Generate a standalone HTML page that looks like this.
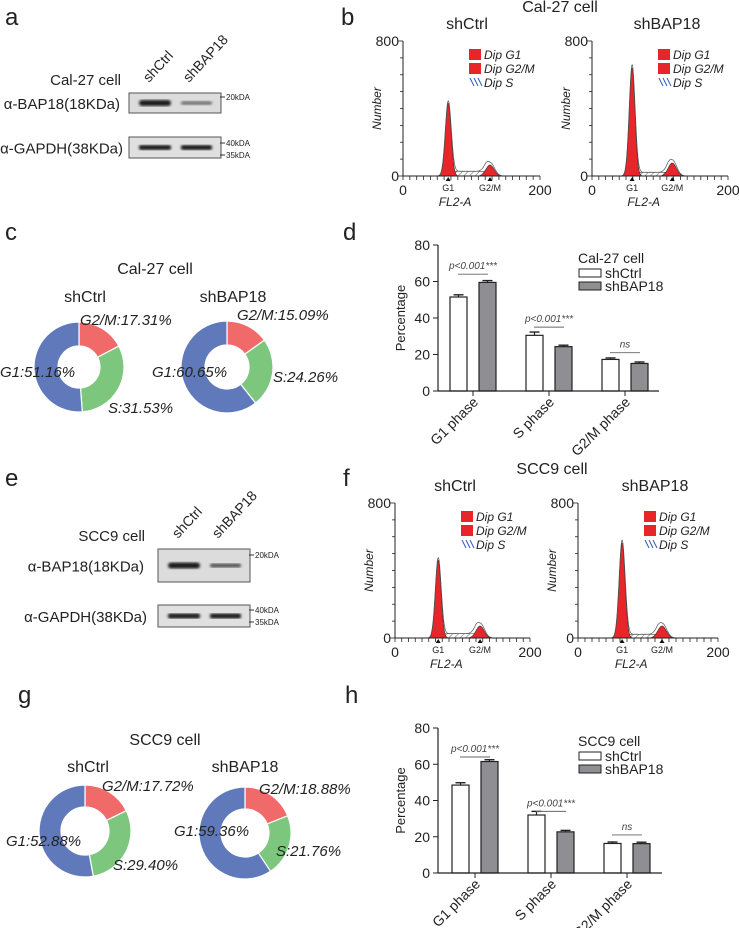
<!DOCTYPE html>
<html><head><meta charset="utf-8">
<style>
html,body{margin:0;padding:0;background:#fff;}
svg{display:block;font-family:"Liberation Sans",Arial,sans-serif;}
</style></head>
<body>
<svg id="fig" width="739" height="928" viewBox="0 0 739 928" xmlns="http://www.w3.org/2000/svg">
<defs>
<pattern id="hatch" width="4" height="4" patternUnits="userSpaceOnUse" patternTransform="rotate(45)">
<rect width="4" height="4" fill="#fff"/><line x1="0" y1="0" x2="0" y2="4" stroke="#777" stroke-width="1.2"/></pattern>
<filter id="blur1"><feGaussianBlur stdDeviation="1.2"/></filter>
</defs>
<g id="letters" font-size="24" fill="#222">
<text x="5" y="25">a</text>
<text x="341" y="25">b</text>
<text x="5" y="240">c</text>
<text x="343" y="240">d</text>
<text x="5" y="486">e</text>
<text x="343" y="486">f</text>
<text x="18" y="703">g</text>
<text x="345" y="703">h</text>
</g>
<g id="root"></g>
</svg>
<script>
// ---- data arrays ----
const pieCats = ["G2/M","S","G1"];
const pieCalCtrl = [17.31, 31.53, 51.16];
const pieCalBap = [15.09, 24.26, 60.65];
const pieSccCtrl = [17.72, 29.40, 52.88];
const pieSccBap = [18.88, 21.76, 59.36];

const barCats = ["G1 phase","S phase","G2/M phase"];
const calCtrl = [51.5, 30.5, 17.3];
const calBap = [59.5, 24.3, 15.1];
const calCtrlErr = [1.2, 1.8, 0.8];
const calBapErr = [1.0, 0.8, 0.8];
const calSig = [64, 35, 21];
const sccCtrl = [48.5, 32.0, 16.3];
const sccBap = [61.5, 22.7, 16.2];
const sccCtrlErr = [1.3, 2.0, 0.8];
const sccBapErr = [1.0, 0.8, 0.8];
const sccSig = [64, 34, 21];
const sigText = ["p<0.001***","p<0.001***","ns"];
const yTicks = [0,20,40,60,80];

// flow histogram peaks: [G1 channel, G1 height, G2 channel, G2 height, S level]
const histCalCtrl = [66, 432, 127, 65, 28];
const histCalBap = [59, 640, 118, 77, 22];
const histSccCtrl = [64, 462, 126, 71, 26];
const histSccBap = [63, 563, 120, 71, 22];

const NS = "http://www.w3.org/2000/svg";
const root = document.getElementById('root');
function el(tag, attrs, parent, text){
  const e = document.createElementNS(NS, tag);
  for (const k in attrs) e.setAttribute(k, attrs[k]);
  if (text !== undefined) e.textContent = text;
  (parent||root).appendChild(e);
  return e;
}
function txt(x,y,s,size,opts,parent){
  const a = Object.assign({x:x,y:y,'font-size':size,fill:'#222'}, opts||{});
  return el('text', a, parent, s);
}

// ---- western blots ----
function blot(ox, y1, h1, y2, h2, cell, lx, bandsTop, kd){
  const g = el('g', {});
  
  
  txt(lx, y1-8, cell+" cell", 15, {'text-anchor':'end'}, g);
  txt(lx-1, y1+h1/2+6, "α-BAP18(18KDa)", 15, {'text-anchor':'end'}, g);
  txt(lx+2, y2+h2/2+6, "α-GAPDH(38KDa)", 15, {'text-anchor':'end'}, g);
  const w = 92;
  el('rect', {x:ox,y:y1,width:w,height:h1,fill:'#dcdcdc',stroke:'#555','stroke-width':1}, g);
  el('rect', {x:ox,y:y2,width:w,height:h2,fill:'#e0e0e0',stroke:'#555','stroke-width':1}, g);
  el('rect', {x:ox+10,y:y1+h1/2-3,width:32,height:6,rx:3,fill:'#1a1a1a',filter:'url(#blur1)'}, g);
  el('rect', {x:ox+52,y:y1+h1/2-2,width:31,height:4,rx:2,fill:bandsTop,filter:'url(#blur1)'}, g);
  el('rect', {x:ox+10,y:y2+h2/2-2.5,width:32,height:5,rx:2,fill:'#1a1a1a',filter:'url(#blur1)'}, g);
  el('rect', {x:ox+52,y:y2+h2/2-2.5,width:31,height:5,rx:2,fill:'#1a1a1a',filter:'url(#blur1)'}, g);
  const labs = ["shCtrl","shBAP18"];
  [ox+20, ox+60].forEach((x,i)=>{
    const t = txt(x, y1-10, labs[i], 14, {transform:`rotate(-47 ${x} ${y1-10})`}, g);
    
    
  });
  kd.forEach(k=>{
    el('line',{x1:ox+w-1,x2:ox+w+4,y1:k[1],y2:k[1],stroke:'#333','stroke-width':1},g);
    txt(ox+w+5, k[1]+3, k[0], 8, {}, g);
  });
}
blot(129, 93, 20, 137, 21, "Cal-27", 121, '#777', [["20kDA",97],["40kDA",143],["35kDA",155]]);
blot(158, 549, 33, 605, 22, "SCC9", 145, '#555', [["20kDA",555],["40kDA",610],["35kDA",622]]);

// ---- flow histograms ----
function hist(ax, top, zero, xend, d, name){
  const g = el('g', {});
  
  
  const sx = c => ax + (xend-ax)*c/200;
  const sy = v => zero - (zero-top)*v/800;
  const gauss = (c, mu, sig, h) => h*Math.exp(-0.5*((c-mu)/sig)**2);
  let sPath = `M${sx(d[0])},${zero}`;
  for (let c=d[0]; c<=d[2]; c+=1){
    const t = Math.min(1, Math.max(0,(c-d[0])/6)) * Math.min(1, Math.max(0,(d[2]-c)/6));
    sPath += ` L${sx(c)},${sy(d[4]*t)}`;
  }
  sPath += ` L${sx(d[2])},${zero} Z`;
  el('path',{d:sPath,fill:'url(#hatch)',stroke:'#444','stroke-width':0.6},g);
  [[d[0],4.2,d[1]],[d[2],6,d[3]]].forEach(p=>{
    let pth = `M${sx(p[0]-4*p[1])},${zero}`;
    for (let c=p[0]-4*p[1]; c<=p[0]+4*p[1]; c+=0.5) pth += ` L${sx(c)},${sy(gauss(c,p[0],p[1],p[2]))}`;
    pth += ` L${sx(p[0]+4*p[1])},${zero} Z`;
    el('path',{d:pth,fill:'#e8262a',stroke:'#333','stroke-width':0.6},g);
  });
  let env = `M${sx(d[0]-16)},${zero}`;
  for (let c=d[0]-16; c<=d[2]+22; c+=0.5){
    const t = Math.min(1, Math.max(0,(c-d[0])/6)) * Math.min(1, Math.max(0,(d[2]-c)/6));
    const v = gauss(c,d[0],4.3,d[1]*1.03) + gauss(c,d[2],6.3,d[3]*1.25) + d[4]*t;
    env += ` L${sx(c)},${sy(v)}`;
  }
  el('path',{d:env,fill:'none',stroke:'#555','stroke-width':0.7},g);
  el('line',{x1:ax,x2:ax,y1:top,y2:zero,stroke:'#222','stroke-width':1},g);
  el('line',{x1:ax,x2:xend,y1:zero,y2:zero,stroke:'#222','stroke-width':1},g);
  for (let v=0; v<=800; v+=100){
    const L = (v%800===0)?5:3;
    el('line',{x1:ax-L,x2:ax,y1:sy(v),y2:sy(v),stroke:'#222','stroke-width':0.8},g);
  }
  for (let c=0; c<=200; c+=10){
    el('line',{x1:sx(c),x2:sx(c),y1:zero,y2:zero+4,stroke:'#222','stroke-width':0.8},g);
  }
  txt(ax-4, top+5, "800", 14, {'text-anchor':'end'}, g);
  txt(ax-4, zero+5, "0", 14, {'text-anchor':'end'}, g);
  txt(ax, zero+19, "0", 14, {'text-anchor':'middle'}, g);
  txt(xend, zero+19, "200", 14, {'text-anchor':'middle'}, g);
  [[d[0],"G1"],[d[2],"G2/M"]].forEach(m=>{
    el('path',{d:`M${sx(m[0])-2.5},${zero+5} L${sx(m[0])+2.5},${zero+5} L${sx(m[0])},${zero+1} Z`,fill:'#111'},g);
    txt(sx(m[0]), zero+15, m[1], 9, {'text-anchor':'middle'}, g);
  });
  txt(ax+(xend-ax)*0.38, zero+30, "FL2-A", 12, {'text-anchor':'middle','font-style':'italic'}, g);
  const ny = (top+zero)/2;
  txt(ax-22, ny, "Number", 12, {'text-anchor':'middle','font-style':'italic',transform:`rotate(-90 ${ax-22} ${ny})`}, g);
  const lx = ax+66;
  el('rect',{x:lx,y:top+8,width:12,height:11,fill:'#e8262a'},g);
  el('rect',{x:lx,y:top+22,width:12,height:11,fill:'#e8262a'},g);
  for (let i=0;i<3;i++) el('line',{x1:lx+1+i*4,y1:top+37,x2:lx+5+i*4,y2:top+45,stroke:'#2a5bb5','stroke-width':1},g);
  txt(lx+15, top+18, "Dip G1", 12, {'font-style':'italic'}, g);
  txt(lx+15, top+32, "Dip G2/M", 12, {'font-style':'italic'}, g);
  txt(lx+15, top+46, "Dip S", 12, {'font-style':'italic'}, g);
}
txt(560, 12, "Cal-27 cell", 16, {'text-anchor':'middle'});
txt(467, 29, "shCtrl", 16, {'text-anchor':'middle'});
txt(667, 29, "shBAP18", 16, {'text-anchor':'middle'});
hist(403, 41, 176, 540, histCalCtrl, 'cal27-shctrl');
hist(592, 41, 176, 728, histCalBap, 'cal27-shbap18');
txt(552, 474, "SCC9 cell", 16, {'text-anchor':'middle'});
txt(455, 491, "shCtrl", 16, {'text-anchor':'middle'});
txt(655, 491, "shBAP18", 16, {'text-anchor':'middle'});
hist(395, 503, 638, 530, histSccCtrl, 'scc9-shctrl');
hist(578, 503, 638, 718, histSccBap, 'scc9-shbap18');

// ---- donuts ----
const pieColors = ["#f06a6a","#7dc67e","#6079bb"];
function donut(cx, cy, r, ri, vals, labels, name){
  const g = el('g', {});
  
  
  const tot = vals.reduce((a,b)=>a+b,0);
  let a0 = -Math.PI/2;
  vals.forEach((v,i)=>{
    const a1 = a0 + 2*Math.PI*v/tot;
    const large = (a1-a0)>Math.PI?1:0;
    const p = (a,rr)=>[cx+rr*Math.cos(a), cy+rr*Math.sin(a)];
    const [x0,y0]=p(a0,r),[x1,y1]=p(a1,r),[x2,y2]=p(a1,ri),[x3,y3]=p(a0,ri);
    const s = el('path',{d:`M${x0},${y0} A${r},${r} 0 ${large} 1 ${x1},${y1} L${x2},${y2} A${ri},${ri} 0 ${large} 0 ${x3},${y3} Z`,fill:pieColors[i],stroke:'#fff','stroke-width':1.2},g);
    
    
    a0 = a1;
  });
  labels.forEach((L,i)=>{
    txt(L[0], L[1], pieCats[i]+":"+vals[i].toFixed(2)+"%", 15, {'font-style':'italic'}, g);
  });
}
txt(155, 274, "Cal-27 cell", 16, {'text-anchor':'middle'});
txt(85, 302, "shCtrl", 16, {'text-anchor':'middle'});
txt(233, 302, "shBAP18", 16, {'text-anchor':'middle'});
donut(79, 367, 45, 21, pieCalCtrl, [[80,325],[108,413],[0,377]], 'cal27-shctrl');
donut(227, 367, 46, 22, pieCalBap, [[237,320],[273,382],[152,377]], 'cal27-shbap18');
txt(165, 745, "SCC9 cell", 16, {'text-anchor':'middle'});
txt(88, 772, "shCtrl", 16, {'text-anchor':'middle'});
txt(245, 772, "shBAP18", 16, {'text-anchor':'middle'});
donut(85, 831, 46, 24, pieSccCtrl, [[102,791],[113,870],[6,846]], 'scc9-shctrl');
donut(245, 833, 46, 24, pieSccBap, [[259,794],[276,856],[174,836]], 'scc9-shbap18');

// ---- bar charts ----
function bars(ax, y0, y80, xend, g0, ctrl, bap, ce, be, sig, cell, name){
  const g = el('g', {});
  
  
  const sy = v => y0 - (y0-y80)*v/80;
  const gx = i => g0 + 76*i;
  const bw = 17;
  barCats.forEach((c,i)=>{
    [[ctrl,ce,-14.5,'#fff'],[bap,be,14.5,'#8e8e93']].forEach((s,j)=>{
      const x = gx(i)+s[2]-bw/2;
      const b = el('rect',{x:x,y:sy(s[0][i]),width:bw,height:sy(0)-sy(s[0][i]),fill:s[3],stroke:'#222','stroke-width':1.2},g);
      
      
      const xc = x+bw/2, ye = sy(s[0][i]+s[1][i]);
      el('line',{x1:xc,x2:xc,y1:sy(s[0][i]),y2:ye,stroke:'#222','stroke-width':1.2},g);
      el('line',{x1:xc-5,x2:xc+5,y1:ye,y2:ye,stroke:'#222','stroke-width':1.4},g);
    });
    const ly = sy(sig[i]);
    el('line',{x1:gx(i)-15,x2:gx(i)+15,y1:ly,y2:ly,stroke:'#666','stroke-width':0.9},g);
    txt(gx(i), ly-5, sigText[i], 10, {'text-anchor':'middle','font-style':'italic',fill:'#444'}, g);
    el('line',{x1:gx(i),x2:gx(i),y1:y0,y2:y0+5,stroke:'#222','stroke-width':1},g);
    const tx = gx(i)+6, ty = y0+12;
    txt(tx, ty, c, 14, {'text-anchor':'end',transform:`rotate(-45 ${tx} ${ty})`}, g);
  });
  el('line',{x1:ax,x2:ax,y1:y80,y2:y0,stroke:'#222','stroke-width':1.2},g);
  el('line',{x1:ax,x2:xend,y1:y0,y2:y0,stroke:'#222','stroke-width':1.2},g);
  yTicks.forEach(t=>{
    el('line',{x1:ax-5,x2:ax,y1:sy(t),y2:sy(t),stroke:'#222','stroke-width':1},g);
    txt(ax-8, sy(t)+5, String(t), 14, {'text-anchor':'end'}, g);
  });
  const my = (y0+y80)/2;
  txt(ax-33, my, "Percentage", 13, {'text-anchor':'middle',transform:`rotate(-90 ${ax-33} ${my})`}, g);
  const lx = ax+140, ly = y80+16;
  txt(lx, ly+2, cell, 14, {}, g);
  el('rect',{x:lx+1,y:ly+8,width:22,height:8,fill:'#fff',stroke:'#222','stroke-width':1},g);
  el('rect',{x:lx+1,y:ly+21,width:22,height:8,fill:'#8e8e93',stroke:'#222','stroke-width':1},g);
  txt(lx+27, ly+17, "shCtrl", 14, {}, g);
  txt(lx+27, ly+30, "shBAP18", 14, {}, g);
}
bars(438, 391, 245, 659, 473, calCtrl, calBap, calCtrlErr, calBapErr, calSig, "Cal-27 cell", 'cal27');
bars(438, 873, 728, 662, 475, sccCtrl, sccBap, sccCtrlErr, sccBapErr, sccSig, "SCC9 cell", 'scc9');
</script>
</body></html>
